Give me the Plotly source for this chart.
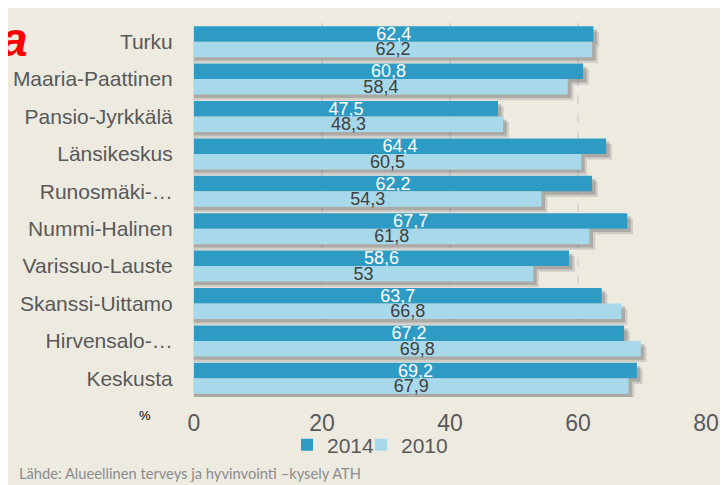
import plotly.graph_objects as go

categories = ["Turku", "Maaria-Paattinen", "Pansio-Jyrkkälä", "Länsikeskus", "Runosmäki-…",
              "Nummi-Halinen", "Varissuo-Lauste", "Skanssi-Uittamo", "Hirvensalo-…", "Keskusta"]
values_2014 = [62.4, 60.8, 47.5, 64.4, 62.2, 67.7, 58.6, 63.7, 67.2, 69.2]
values_2010 = [62.2, 58.4, 48.3, 60.5, 54.3, 61.8, 53.0, 66.8, 69.8, 67.9]
x_ticks = [0, 20, 40, 60, 80]

# page body has an 8px default margin; lay the figure out in screen coords minus 8
OFF = 8
W, H = 728 - OFF, 485 - OFF
ML, MR, MT, MB = 194 - OFF, 22, 23 - OFF, 88
PW, PH = W - ML - MR, H - MT - MB

def px(x):
    return (x - OFF - ML) / PW

def py(y):
    return (H - MB - (y - OFF)) / PH

pos = list(range(len(categories)))
BW = 0.415
FONT = "Liberation Sans, Arial, sans-serif"

def fmt(v):
    return ("%g" % v).replace(".", ",")

fig = go.Figure()

# soft drop shadows
for dy, dx, a in [(0.15, 0.9, 0.2), (0.09, 0.55, 0.3)]:
    fig.add_trace(go.Bar(y=pos, x=[v + dx for v in values_2014], orientation="h",
                         offset=-BW + dy, width=BW, marker_color=f"rgba(90,90,90,{a})",
                         marker_line_width=0, showlegend=False, hoverinfo="skip"))
    fig.add_trace(go.Bar(y=pos, x=[v + dx for v in values_2010], orientation="h",
                         offset=0 + dy, width=BW, marker_color=f"rgba(90,90,90,{a})",
                         marker_line_width=0, showlegend=False, hoverinfo="skip"))

fig.add_trace(go.Bar(y=pos, x=values_2014, orientation="h", name="2014", legend="legend",
                     offset=-BW, width=BW, marker_color="#2E9BC4", marker_line_width=0,
                     text=[fmt(v) for v in values_2014], textposition="inside",
                     insidetextanchor="middle", constraintext="none",
                     textfont=dict(color="white", size=18, family=FONT)))
fig.add_trace(go.Bar(y=pos, x=values_2010, orientation="h", name="2010", legend="legend2",
                     offset=0, width=BW, marker_color="#A8D9EB", marker_line_width=0,
                     text=[fmt(v) for v in values_2010], textposition="inside",
                     insidetextanchor="middle", constraintext="none",
                     textfont=dict(color="#404040", size=18, family=FONT)))

leg_common = dict(orientation="h", xanchor="left", yanchor="middle",
                  bgcolor="rgba(0,0,0,0)", font=dict(size=21, color="#595959"),
                  itemwidth=30, y=py(445))

fig.update_layout(
    width=W, height=H, barmode="overlay",
    margin=dict(l=ML, r=MR, t=MT, b=MB, pad=0, autoexpand=False),
    paper_bgcolor="#EDEAE0", plot_bgcolor="rgba(0,0,0,0)",
    font=dict(family=FONT, color="#595959"),
    xaxis=dict(range=[0, 80], tickvals=x_ticks, showgrid=True, gridcolor="#D8D8D8",
               griddash="dash", gridwidth=1.5, zeroline=False, showline=False,
               tickfont=dict(size=23, color="#595959"), ticks="outside", ticklen=5,
               tickcolor="rgba(0,0,0,0)", fixedrange=True, automargin=False),
    yaxis=dict(tickvals=pos, ticktext=categories, range=[9.5, -0.5], showgrid=False,
               zeroline=False, showline=True, linecolor="#D9D9D9", linewidth=1,
               tickfont=dict(size=21, color="#595959"), ticks="outside", ticklen=16,
               tickcolor="rgba(0,0,0,0)", automargin=False),
    legend=dict(x=px(287), **leg_common),
    legend2=dict(x=px(361), **leg_common),
    showlegend=True,
)

fig.add_annotation(xref="paper", yref="paper", x=px(145), y=py(415),
                   text="%", showarrow=False, font=dict(size=13, color="black", family=FONT),
                   xanchor="center", yanchor="middle")
fig.add_annotation(xref="paper", yref="paper", x=px(17), y=py(473),
                   text="Lähde: Alueellinen terveys ja hyvinvointi –kysely ATH", showarrow=False,
                   font=dict(size=14.7, color="#8C8C8C", family="Lato, Open Sans, sans-serif"),
                   xanchor="left", yanchor="middle")
fig.add_annotation(xref="paper", yref="paper", x=px(30), y=py(40),
                   text="<b><i>a</i></b>", showarrow=False,
                   font=dict(size=48, color="#FF0000", family="Liberation Sans, Arial, sans-serif"),
                   xanchor="right", yanchor="middle")

fig.write_html("out.html")
